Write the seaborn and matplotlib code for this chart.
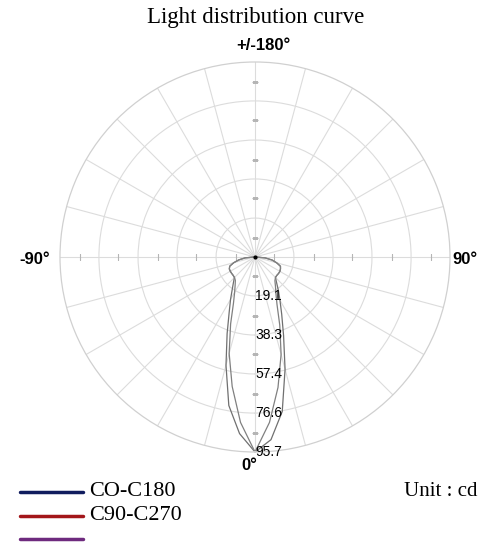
import numpy as np
import matplotlib
matplotlib.use("Agg")
import matplotlib.pyplot as plt
import seaborn as sns

# ---- data ----
angles_deg = [-90, -85, -80, -75, -70, -65, -60, -55, -50, -45, -40, -35, -30, -25, -20, -15, -10, -5,
              0, 5, 10, 15, 20, 25, 30, 35, 40, 45, 50, 55, 60, 65, 70, 75, 80, 85, 90]
c0_c180 = [0.5, 4.8, 8.0, 10.8, 13.2, 13.9, 14.0, 14.0, 14.0, 14.3, 16.5, 19.5, 24.0, 30.0, 40.0, 55.0, 74.0, 87.0,
           95.7, 90.0, 77.0, 57.0, 41.0, 31.0, 24.5, 20.0, 16.5, 14.2, 14.0, 14.1, 14.1, 13.8, 13.3, 11.0, 8.5, 5.0, 0.5]
c90_c270 = [0.5, 4.8, 8.0, 10.8, 13.2, 13.9, 14.0, 14.0, 14.0, 14.2, 15.0, 17.0, 20.0, 25.0, 35.0, 49.0, 64.5, 81.5,
            95.7, 81.5, 65.0, 49.5, 35.5, 25.5, 20.5, 17.5, 15.2, 14.2, 14.0, 14.1, 14.1, 13.8, 13.3, 11.0, 8.5, 5.0, 0.5]
ring_values = [19.1, 38.3, 57.4, 76.6, 95.7]
ring_labels = ["19.1", "38.3", "57.4", "76.6", "95.7"]
series_names = ["CO-C180", "C90-C270", ""]
series_colors = ["#101c5e", "#a3161a", "#6e2a7e"]
axis_labels = {"top": "+/-180°", "left": "-90°", "right": "90°", "bottom": "0°"}

sns.set_style("white")
plt.rcParams["font.family"] = ["DejaVu Sans"]
plt.rcParams["text.color"] = "black"

W, H = 500, 557
fig = plt.figure(figsize=(W / 100, H / 100), dpi=100)
cx, cy, R = 255, 257, 195
ax = fig.add_axes([(cx - R) / W, (H - cy - R) / H, 2 * R / W, 2 * R / H], projection="polar")
ax.set_theta_zero_location("S")
ax.set_theta_direction(1)
ax.set_ylim(0, 95.7)
ax.set_thetagrids(np.arange(0, 360, 15), labels=[""] * 24)
ax.set_rgrids(ring_values[:-1], labels=[""] * 4)
ax.grid(True, color="#dcdcdc", lw=0.8)
ax.spines["polar"].set_color("#d0d0d0")
ax.spines["polar"].set_linewidth(0.9)
ax.set_facecolor("white")

# axis ticks at half-ring positions
half = [v - 19.14 / 2 for v in ring_values]
for t in [90, 270]:
    ax.plot(np.radians([t] * len(half)), half, ls="none", marker="|", ms=5, color="#b5b5b5", mew=0.8)
for t in [0, 180]:
    ax.plot(np.radians([t] * len(half)), half, ls="none", marker="_", ms=5, color="#b5b5b5", mew=0.8)

theta = np.radians(angles_deg)
sns.lineplot(x=theta, y=c0_c180, ax=ax, sort=False, estimator=None, color="#707070", lw=0.9)
sns.lineplot(x=theta, y=c90_c270, ax=ax, sort=False, estimator=None, color="#808080", lw=0.9)
ax.plot([0], [0], marker="o", ms=2, color="black")
ax.set_xlabel("")
ax.set_ylabel("")

for v, lab in zip(ring_values, ring_labels):
    ax.text(0, v, lab, ha="left", va="center", fontsize=10,
            family="Liberation Sans", color="black",
            transform=ax.transData)

def ftxt(x, y, s, **kw):
    fig.text(x / W, 1 - y / H, s, color="black", **kw)

ftxt(256, 18, "Light distribution curve", ha="center", va="center",
     family="Liberation Serif", fontsize=16.5)
ftxt(263, 45, axis_labels["top"], ha="center", va="center",
     family="Liberation Sans", fontweight="bold", fontsize=12)
ftxt(35, 259, axis_labels["left"], ha="center", va="center",
     family="Liberation Sans", fontweight="bold", fontsize=12)
ftxt(465, 259, axis_labels["right"], ha="center", va="center",
     family="Liberation Sans", fontweight="bold", fontsize=12)
ftxt(249, 466, axis_labels["bottom"], ha="center", va="center",
     family="Liberation Sans", fontweight="bold", fontsize=12)

# legend drawn manually
for i, (name, col) in enumerate(zip(series_names, series_colors)):
    y = 492 + 23.5 * i
    fig.add_artist(plt.Line2D([20 / W, 83 / W], [1 - y / H, 1 - y / H], color=col, lw=2.5))
    if name:
        ftxt(89, y, name, ha="left", va="center", family="Liberation Serif", fontsize=16)
ftxt(478, 492, "Unit : cd", ha="right", va="center", family="Liberation Serif", fontsize=15)

fig.savefig("out.png", dpi=100, facecolor="white")
